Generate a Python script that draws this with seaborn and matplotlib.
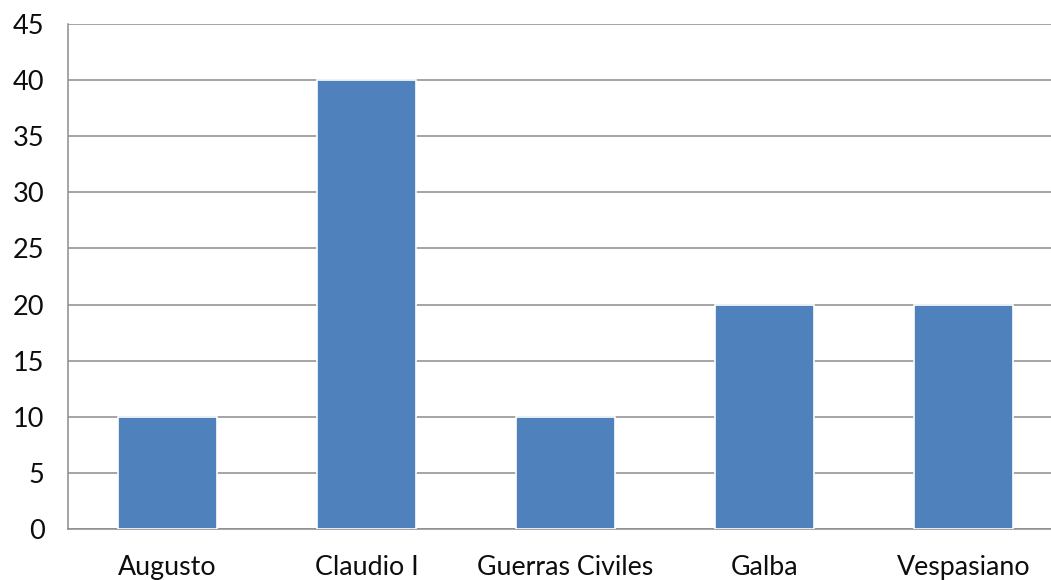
import matplotlib
matplotlib.use('Agg')

import pandas as pd
import matplotlib.pyplot as plt
import seaborn as sns

# ---------------- DATA ----------------
categories = ["Augusto", "Claudio I", "Guerras Civiles", "Galba", "Vespasiano"]
values = [10, 40, 10, 20, 20]
y_ticks = [0, 5, 10, 15, 20, 25, 30, 35, 40, 45]
# --------------------------------------

BAR_COLOR = "#4F81BD"
GRID_COLOR = "#8C8C8C"

sns.set_theme(style="white")
plt.rcParams['font.family'] = ['Lato', 'DejaVu Sans']

df = pd.DataFrame({"emperador": categories, "valor": values})

fig = plt.figure(figsize=(10.51, 5.8), dpi=100)
# plot area runs slightly past the right edge, as in the original export
ax = fig.add_axes([68 / 1051, 51 / 580, 995 / 1051, 505 / 580])

sns.barplot(data=df, x="emperador", y="valor", color=BAR_COLOR, width=0.5,
            saturation=1, edgecolor="white", linewidth=1.2, ax=ax, zorder=3)

ax.set_ylim(0, 45)
ax.set_xlim(-0.5, len(categories) - 0.5)
ax.set_yticks(y_ticks)
ax.yaxis.grid(True, color=GRID_COLOR, linewidth=1.1, zorder=0)
ax.set_axisbelow(True)
ax.set_xlabel("")
ax.set_ylabel("")

for side in ["top", "right"]:
    ax.spines[side].set_visible(False)
for side in ["left", "bottom"]:
    ax.spines[side].set_color(GRID_COLOR)
    ax.spines[side].set_linewidth(1.1)

ax.tick_params(axis="y", length=0, pad=17, labelsize=19.5, labelcolor="#0d0d0d")
ax.tick_params(axis="x", length=0, pad=19, labelsize=19.3, labelcolor="#0d0d0d")

fig.savefig("out.png", dpi=100)
plt.close(fig)
